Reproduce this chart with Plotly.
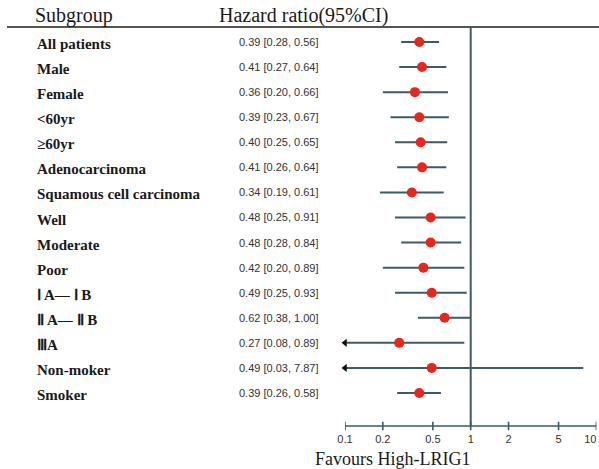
import math
import plotly.graph_objects as go

# ---- data ----
subgroups = ["All patients", "Male", "Female", "<60yr", "≥60yr", "Adenocarcinoma",
             "Squamous cell carcinoma", "Well", "Moderate", "Poor",
             "Ⅰ A— Ⅰ B", "Ⅱ A— Ⅱ B", "ⅢA", "Non-moker", "Smoker"]
hr = [0.39, 0.41, 0.36, 0.39, 0.40, 0.41, 0.34, 0.48, 0.48, 0.42, 0.49, 0.62, 0.27, 0.49, 0.39]
lower = [0.28, 0.27, 0.20, 0.23, 0.25, 0.26, 0.19, 0.25, 0.28, 0.20, 0.25, 0.38, 0.08, 0.03, 0.26]
upper = [0.56, 0.64, 0.66, 0.67, 0.65, 0.64, 0.61, 0.91, 0.84, 0.89, 0.93, 1.00, 0.89, 7.87, 0.58]
tick_vals = [0.1, 0.2, 0.5, 1, 2, 5, 10]
tick_text = ["0.1", "0.2", "0.5", "1", "2", "5", "10"]
xmin, xmax = 0.1, 10

W, H = 599, 469
ROW0, ROWSTEP = 42, 25.07   # pixel positions of rows


def py(p):  # pixel y -> data y (row units)
    return (p - ROW0) / ROWSTEP


def pxx(p):  # pixel x -> paper x
    return p / W


LINE = "#3d5a66"
RED = "#e8261c"
SERIF = "Liberation Serif, Times New Roman, serif"
SANS = "Liberation Sans, Arial, sans-serif"

rows = list(range(len(subgroups)))
fig = go.Figure()

# CI lines
cx, cy = [], []
for i, (lo, up) in enumerate(zip(lower, upper)):
    cx += [max(lo, xmin), up, None]
    cy += [i, i, None]
fig.add_trace(go.Scatter(x=cx, y=cy, mode="lines", line=dict(color=LINE, width=2),
                         hoverinfo="skip", cliponaxis=False))

# arrows for truncated lower bounds
ax_ = [xmin for lo in lower if lo < xmin]
ay_ = [i for i, lo in enumerate(lower) if lo < xmin]
fig.add_trace(go.Scatter(x=ax_, y=ay_, mode="markers",
                         marker=dict(symbol="triangle-left", size=7, color="#111"),
                         hoverinfo="skip", cliponaxis=False))

# reference line at 1
fig.add_trace(go.Scatter(x=[1, 1], y=[py(27), py(426)], mode="lines",
                         line=dict(color=LINE, width=2), hoverinfo="skip", cliponaxis=False))

# axis line + ticks
y_ax = py(426)
tx, ty = [xmin, xmax, None], [y_ax, y_ax, None]
for v in tick_vals:
    tx += [v, v, None]
    ty += [y_ax - 0.17, y_ax + 0.17, None]
fig.add_trace(go.Scatter(x=tx, y=ty, mode="lines", line=dict(color=LINE, width=1.6),
                         hoverinfo="skip", cliponaxis=False))
tpos = ["middle center"] * (len(tick_vals) - 1) + ["middle left"]
fig.add_trace(go.Scatter(x=tick_vals, y=[py(440)] * len(tick_vals), mode="text",
                         text=tick_text, textposition=tpos,
                         textfont=dict(family=SANS, size=11, color="#333"),
                         hoverinfo="skip", cliponaxis=False))

# point estimates
fig.add_trace(go.Scatter(x=hr, y=rows, mode="markers",
                         marker=dict(size=10, color=RED), hoverinfo="skip", cliponaxis=False))

ann = []
ann.append(dict(x=pxx(33), y=py(15), xref="paper", yref="y", text="Subgroup",
                xanchor="left", yanchor="middle", showarrow=False,
                font=dict(family=SERIF, size=20, color="#1a1a1a")))
ann.append(dict(x=pxx(217), y=py(15), xref="paper", yref="y", text="Hazard ratio(95%CI)",
                xanchor="left", yanchor="middle", showarrow=False,
                font=dict(family=SERIF, size=20, color="#1a1a1a")))
for i, (name, h, lo, up) in enumerate(zip(subgroups, hr, lower, upper)):
    ann.append(dict(x=pxx(35), y=i + 0.08, xref="paper", yref="y", text="<b>%s</b>" % name,
                    xanchor="left", yanchor="middle", showarrow=False,
                    font=dict(family=SERIF, size=15, color="#1a1a1a")))
    ann.append(dict(x=pxx(237), y=i, xref="paper", yref="y",
                    text="%.2f [%.2f, %.2f]" % (h, lo, up),
                    xanchor="left", yanchor="middle", showarrow=False,
                    font=dict(family=SANS, size=11, color="#333")))
ann.append(dict(x=pxx(313), y=py(459), xref="paper", yref="y", text="Favours High-LRIG1",
                xanchor="left", yanchor="middle", showarrow=False,
                font=dict(family=SERIF, size=18, color="#1a1a1a")))

shapes = [dict(type="line", xref="paper", yref="y", x0=pxx(7), x1=1, y0=py(27), y1=py(27),
               line=dict(color="#555", width=1.8))]

d0 = 345 / W
d1 = 596.4 / W
fig.update_layout(
    width=W, height=H, margin=dict(l=0, r=0, t=0, b=0),
    paper_bgcolor="white", plot_bgcolor="white", showlegend=False,
    xaxis=dict(type="log", domain=[d0, d1], range=[math.log10(xmin), math.log10(xmax)],
               visible=False, fixedrange=True),
    yaxis=dict(range=[py(H), py(0)], visible=False, fixedrange=True),
    annotations=ann, shapes=shapes,
)
fig.write_html("out.html")
